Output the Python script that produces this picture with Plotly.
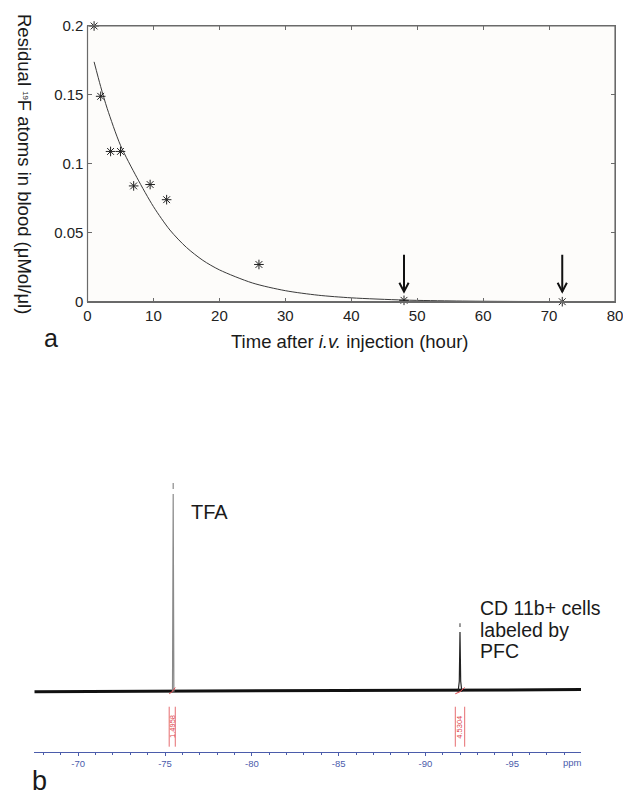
import plotly.graph_objects as go

# ---------------- data: panel a ----------------
time_h = [1, 2, 3.5, 5, 7, 9.5, 12, 26, 48, 72]
residual = [0.200, 0.149, 0.109, 0.109, 0.084, 0.085, 0.074, 0.027, 0.001, 0.0]
fit_t = [1, 2, 3, 5, 7.5, 10, 12.5, 15, 17.5, 20, 25, 30, 35, 40, 48, 56, 64, 72]
fit_v = [0.174, 0.156, 0.140, 0.1135, 0.090, 0.069, 0.052, 0.0394, 0.030, 0.0231, 0.0136,
         0.008, 0.0047, 0.0028, 0.0012, 0.0005, 0.0002, 0.0001]
arrow_t = [48, 72]
arrow_tail = 0.034
arrow_head = 0.0073
x_ticks = [0, 10, 20, 30, 40, 50, 60, 70, 80]
y_ticks = [0, 0.05, 0.1, 0.15, 0.2]
y_ticklabels = ["0", "0.05", "0.1", "0.15", "0.2"]

# ---------------- data: panel b ----------------
base_ppm = [-67.47, -98.96]
base_int = [0.0, 0.01]
tfa_ppm = [-75.43, -75.47, -75.51]
tfa_int = [0.0, 0.947, 0.0]
tfa_tip = [0.971, 1.0]
cd_ppm = [-91.88, -91.95, -91.99, -92.03, -92.10]
cd_int = [0.0, 0.05, 0.286, 0.05, 0.0]
cd_tip = [0.31, 0.328]
integ_start = [-75.24, -91.72]
integ_end = [-75.59, -92.26]
integ_labels = ["1.4958", "4.5304"]
ppm_ticks = [-70, -75, -80, -85, -90, -95]
ppm_ticklabels = ["-70", "-75", "-80", "-85", "-90", "-95"]

W, H = 623, 796
def px(x):
    return x / W
def py(y):
    return 1 - y / H

FONT = "Liberation Sans, Arial, sans-serif"
AX = "#6a6a6a"
BLUE = "#4b5cab"
RED = "#e0474c"

fig = go.Figure()

# light background of panel a only
fig.add_shape(type="rect", xref="x domain", yref="y domain", x0=0, x1=1, y0=0, y1=1,
              line=dict(width=0), fillcolor="#fdfcfa", layer="below")

# fitted curve
fig.add_trace(go.Scatter(x=fit_t, y=fit_v, mode="lines",
                         line=dict(color="#3a3a3a", width=1, shape="spline", smoothing=0.8),
                         xaxis="x", yaxis="y", hoverinfo="skip"))
# data points
fig.add_trace(go.Scatter(x=time_h, y=residual, mode="markers",
                         marker=dict(symbol="asterisk-open", size=8, color="#222",
                                     line=dict(color="#222", width=1)),
                         cliponaxis=False, xaxis="x", yaxis="y"))

# spectrum baseline (noise band)
fig.add_trace(go.Scatter(x=base_ppm, y=base_int, mode="lines",
                         line=dict(color="#111", width=3),
                         xaxis="x2", yaxis="y2", hoverinfo="skip"))
# peaks
fig.add_trace(go.Scatter(x=tfa_ppm, y=tfa_int, mode="lines",
                         line=dict(color="#8a8a8a", width=1.2),
                         xaxis="x2", yaxis="y2", hoverinfo="skip"))
fig.add_trace(go.Scatter(x=[tfa_ppm[1]] * 2, y=tfa_tip, mode="lines",
                         line=dict(color="#8a8a8a", width=1.2),
                         xaxis="x2", yaxis="y2", hoverinfo="skip"))
fig.add_trace(go.Scatter(x=cd_ppm, y=cd_int, mode="lines",
                         line=dict(color="#222", width=1.2),
                         xaxis="x2", yaxis="y2", hoverinfo="skip"))
fig.add_trace(go.Scatter(x=[cd_ppm[2]] * 2, y=cd_tip, mode="lines",
                         line=dict(color="#555", width=1.2),
                         xaxis="x2", yaxis="y2", hoverinfo="skip"))

# integration brackets
br_top, br_bot = -0.072, -0.2635
for s, e, lab in zip(integ_start, integ_end, integ_labels):
    for xv in (s, e):
        fig.add_trace(go.Scatter(x=[xv, xv], y=[br_top, br_bot], mode="lines",
                                 line=dict(color=RED, width=0.8),
                                 xaxis="x2", yaxis="y2", hoverinfo="skip"))
    fig.add_trace(go.Scatter(x=[s, (s + e) / 2, e], y=[-0.01, 0.0, 0.02], mode="lines",
                             line=dict(color=RED, width=1),
                             xaxis="x2", yaxis="y2", hoverinfo="skip"))
    fig.add_annotation(x=(s + e) / 2, y=(br_top + br_bot) / 2, xref="x2", yref="y2",
                       text=lab, textangle=-90, showarrow=False,
                       font=dict(family=FONT, size=7.5, color=RED))

# arrows (shaft + open V head)
head_dx, head_dy = 0.7, 0.0065
for t in arrow_t:
    fig.add_shape(type="line", xref="x", yref="y", x0=t, x1=t, y0=arrow_tail, y1=arrow_head,
                  line=dict(color="#111", width=2))
    fig.add_shape(type="path", xref="x", yref="y",
                  path=f"M {t - head_dx},{arrow_head + head_dy} L {t},{arrow_head} "
                       f"L {t + head_dx},{arrow_head + head_dy}",
                  line=dict(color="#111", width=2))

x0, x1 = 87.5, 615
y0, y1 = 26, 301.7
fig.update_layout(
    width=W, height=H, margin=dict(l=0, r=0, t=0, b=0, pad=0, autoexpand=False),
    paper_bgcolor="white", plot_bgcolor="white", showlegend=False,
    font=dict(family=FONT, color="#222"),
    xaxis=dict(domain=[px(x0), px(x1)], range=[0, 80], tickvals=x_ticks,
               ticks="inside", ticklen=4, tickcolor=AX, showline=True, linecolor=AX,
               linewidth=1.2, mirror="ticks", showgrid=False, zeroline=False,
               ticklabeloverflow="allow", automargin=False,
               tickfont=dict(size=15, color="#222"), anchor="y"),
    yaxis=dict(domain=[py(y1), py(y0)], range=[0, 0.2], tickvals=y_ticks,
               ticktext=y_ticklabels, ticks="inside", ticklen=4, tickcolor=AX,
               showline=True, linecolor=AX, linewidth=1.2, mirror="ticks",
               showgrid=False, zeroline=False, tickfont=dict(size=15, color="#222"),
               ticklabeloverflow="allow", automargin=False, anchor="x"),
    xaxis2=dict(domain=[px(34.3), px(581)], range=[-67.47, -98.96], tickvals=ppm_ticks,
                ticktext=ppm_ticklabels,
                ticks="outside", ticklen=3, tickcolor=BLUE, showline=True,
                linecolor=BLUE, linewidth=1, showgrid=False, zeroline=False,
                minor=dict(dtick=1, ticks="outside", ticklen=2, tickcolor=BLUE),
                automargin=False,
                tickfont=dict(size=9.5, color=BLUE), anchor="y2"),
    yaxis2=dict(domain=[py(751.7), py(440)], range=[-0.2875, 1.206], visible=False,
                automargin=False, anchor="x2"),
)

# box around panel a (top and right edges)
fig.add_shape(type="rect", xref="x domain", yref="y domain", x0=0, x1=1, y0=0, y1=1,
              line=dict(color=AX, width=1.2), fillcolor="rgba(0,0,0,0)", layer="above")

anns = [
    dict(x=px(350), y=py(341.7), text="Time after <i>i.v.</i> injection (hour)", size=18.5),
    dict(x=px(25), y=py(164),
         text="Residual <span style='font-size:11px'><sup>19</sup></span>F atoms in blood (μMol/μl)",
         size=18.5, angle=90),
    dict(x=px(51), y=py(338), text="a", size=25),
    dict(x=px(39), y=py(781), text="b", size=27),
    dict(x=px(209), y=py(511.7), text="TFA", size=20),
    dict(x=px(477.7), y=py(608.3), text="CD 11b+ cells", size=19.5, xanchor="left"),
    dict(x=px(477.7), y=py(629.5), text="labeled by", size=19.5, xanchor="left"),
    dict(x=px(477.7), y=py(650.7), text="PFC", size=19.5, xanchor="left"),
    dict(x=px(572), y=py(762.7), text="ppm", size=9.5, color=BLUE),
]
for a in anns:
    fig.add_annotation(x=a["x"], y=a["y"], xref="paper", yref="paper", text=a["text"],
                       showarrow=False, textangle=a.get("angle", 0),
                       xanchor=a.get("xanchor", "center"), yanchor="middle",
                       font=dict(family=FONT, size=a["size"], color=a.get("color", "#1a1a1a")))

fig.write_html("out.html")
